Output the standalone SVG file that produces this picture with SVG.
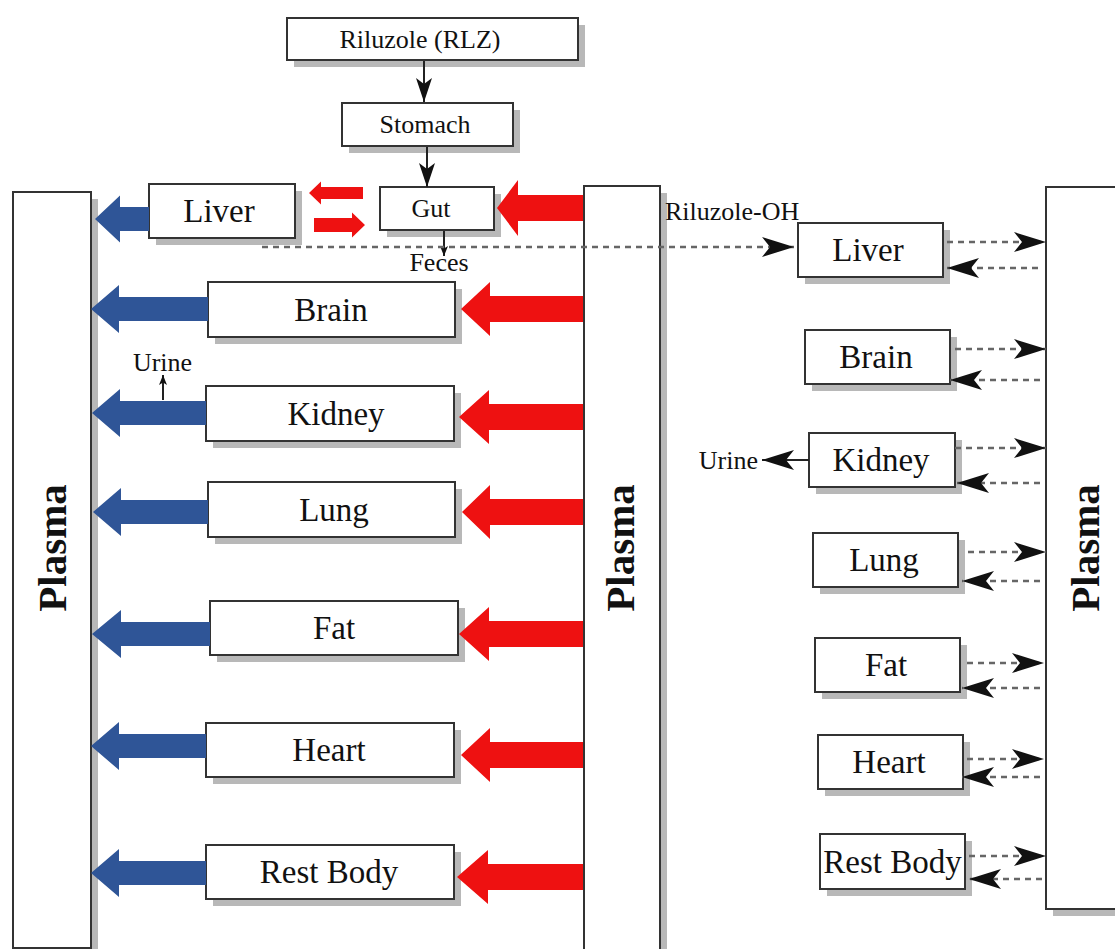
<svg xmlns="http://www.w3.org/2000/svg" width="1115" height="949" viewBox="0 0 1115 949">
<style>
.box{fill:#fff;stroke:#333;stroke-width:2}
.sh{fill:#b8b8b8}
.org{font-family:"Liberation Serif","Times New Roman",serif;font-size:33px;fill:#111;text-anchor:middle;dominant-baseline:central}
.sm{font-family:"Liberation Serif","Times New Roman",serif;font-size:26px;fill:#111;text-anchor:middle;dominant-baseline:central}
.pl{font-family:"Liberation Serif","Times New Roman",serif;font-size:41px;font-weight:bold;fill:#111;text-anchor:middle}
.blue{fill:#2f5597}
.red{fill:#ee1111}
.dash{stroke:#666;stroke-width:2.5;stroke-dasharray:6 5;fill:none}
.solid{stroke:#222;stroke-width:2;fill:none}
</style>
<defs>
<marker id="stealth" markerUnits="userSpaceOnUse" markerWidth="34" markerHeight="22" refX="32" refY="10" orient="auto">
<path d="M0,0 L32,10 L0,20 L8,10 Z" fill="#111"/>
</marker>
<marker id="head" markerUnits="userSpaceOnUse" markerWidth="26" markerHeight="18" refX="24" refY="8" orient="auto">
<path d="M0,0 L24,8 L0,16 L6,8 Z" fill="#111"/>
</marker>
<marker id="tiny" markerUnits="userSpaceOnUse" markerWidth="12" markerHeight="10" refX="10" refY="4" orient="auto">
<path d="M0,0 L10,4 L0,8 L2.5,4 Z" fill="#111"/>
</marker>
</defs>

<!-- plasma columns -->
<g id="plasma-left">
<rect class="sh" x="20" y="199" width="78" height="756"/>
<rect class="box" x="13" y="192" width="78" height="756"/>
<text class="pl" transform="translate(66,548) rotate(-90)">Plasma</text>
</g>
<g id="plasma-middle">
<rect class="sh" x="591" y="193" width="76" height="770"/>
<rect class="box" x="584" y="186" width="76" height="770"/>
<text class="pl" transform="translate(634,548) rotate(-90)">Plasma</text>
</g>
<g id="plasma-right">
<rect class="sh" x="1053" y="194" width="80" height="722"/>
<rect class="box" x="1046" y="187" width="80" height="722"/>
<text class="pl" transform="translate(1099,548) rotate(-90)">Plasma</text>
</g>

<!-- upper chain -->
<g id="riluzole">
<rect class="sh" x="294" y="25" width="291" height="42"/>
<rect class="box" x="287" y="18" width="291" height="42"/>
<text class="sm" x="420" y="39">Riluzole (RLZ)</text>
</g>
<g id="stomach">
<rect class="sh" x="349" y="110" width="171" height="43"/>
<rect class="box" x="342" y="103" width="171" height="43"/>
<text class="sm" x="425" y="124.5">Stomach</text>
</g>
<g id="gut">
<rect class="sh" x="387" y="194" width="114" height="43"/>
<rect class="box" x="380" y="187" width="114" height="43"/>
<text class="sm" x="431" y="208">Gut</text>
</g>

<!-- left organs -->
<g id="liver-left">
<rect class="sh" x="156" y="191" width="146" height="54"/>
<rect class="box" x="149" y="184" width="146" height="54"/>
<text class="org" x="219" y="211">Liver</text>
</g>
<g id="brain-left">
<rect class="sh" x="215" y="289" width="247" height="55"/>
<rect class="box" x="208" y="282" width="247" height="55"/>
<text class="org" x="331" y="309.5">Brain</text>
</g>
<g id="kidney-left">
<rect class="sh" x="213" y="393" width="248" height="55"/>
<rect class="box" x="206" y="386" width="248" height="55"/>
<text class="org" x="336" y="413.5">Kidney</text>
</g>
<g id="lung-left">
<rect class="sh" x="215" y="489" width="247" height="55"/>
<rect class="box" x="208" y="482" width="247" height="55"/>
<text class="org" x="334" y="509.5">Lung</text>
</g>
<g id="fat-left">
<rect class="sh" x="217" y="608" width="248" height="54"/>
<rect class="box" x="210" y="601" width="248" height="54"/>
<text class="org" x="334" y="628">Fat</text>
</g>
<g id="heart-left">
<rect class="sh" x="213" y="730" width="248" height="54"/>
<rect class="box" x="206" y="723" width="248" height="54"/>
<text class="org" x="329" y="750">Heart</text>
</g>
<g id="rest-left">
<rect class="sh" x="213" y="852" width="248" height="54"/>
<rect class="box" x="206" y="845" width="248" height="54"/>
<text class="org" x="329" y="872">Rest Body</text>
</g>

<!-- right organs -->
<g id="liver-right">
<rect class="sh" x="805" y="230" width="145" height="54"/>
<rect class="box" x="798" y="223" width="145" height="54"/>
<text class="org" x="868" y="250">Liver</text>
</g>
<g id="brain-right">
<rect class="sh" x="812" y="337" width="145" height="54"/>
<rect class="box" x="805" y="330" width="145" height="54"/>
<text class="org" x="876" y="357">Brain</text>
</g>
<g id="kidney-right">
<rect class="sh" x="816" y="440" width="146" height="54"/>
<rect class="box" x="809" y="433" width="146" height="54"/>
<text class="org" x="881" y="460">Kidney</text>
</g>
<g id="lung-right">
<rect class="sh" x="820" y="540" width="145" height="54"/>
<rect class="box" x="813" y="533" width="145" height="54"/>
<text class="org" x="884" y="560">Lung</text>
</g>
<g id="fat-right">
<rect class="sh" x="822" y="645" width="145" height="54"/>
<rect class="box" x="815" y="638" width="145" height="54"/>
<text class="org" x="886" y="665">Fat</text>
</g>
<g id="heart-right">
<rect class="sh" x="825" y="742" width="145" height="54"/>
<rect class="box" x="818" y="735" width="145" height="54"/>
<text class="org" x="889" y="762">Heart</text>
</g>
<g id="rest-right">
<rect class="sh" x="827" y="841" width="145" height="55"/>
<rect class="box" x="820" y="834" width="145" height="55"/>
<text class="org" x="892.5" y="861.5">Rest Body</text>
</g>

<!-- labels -->
<g id="labels">
<text class="sm" x="439" y="262">Feces</text>
<text class="sm" x="162.5" y="362">Urine</text>
<text class="sm" x="758" y="460" style="text-anchor:end">Urine</text>
<text class="sm" x="665" y="211" style="text-anchor:start">Riluzole-OH</text>
</g>

<g id="connectors">
<!-- solid black arrows -->
<line class="solid" x1="424" y1="61" x2="424" y2="102" marker-end="url(#head)"/>
<line class="solid" x1="427" y1="147" x2="427" y2="187" marker-end="url(#head)"/>
<line class="solid" x1="444" y1="231" x2="444" y2="256" stroke-width="1.5" marker-end="url(#tiny)"/>
<line class="solid" x1="163" y1="400" x2="163" y2="375" stroke-width="1.5" marker-end="url(#tiny)"/>
<line class="solid" x1="809" y1="460" x2="762" y2="460" stroke="#444" marker-end="url(#stealth)"/>

<!-- dashed Riluzole-OH line -->
<line class="dash" x1="262" y1="247" x2="794" y2="247" marker-end="url(#stealth)"/>

<!-- right side exchanges -->
<line class="dash" x1="947" y1="242" x2="1046" y2="242" marker-end="url(#stealth)"/>
<line class="dash" x1="1038" y1="268" x2="947" y2="268" marker-end="url(#stealth)"/>
<line class="dash" x1="955" y1="349" x2="1046" y2="349" marker-end="url(#stealth)"/>
<line class="dash" x1="1040" y1="380" x2="950" y2="380" marker-end="url(#stealth)"/>
<line class="dash" x1="955" y1="448" x2="1046" y2="448" marker-end="url(#stealth)"/>
<line class="dash" x1="1040" y1="483" x2="957" y2="483" marker-end="url(#stealth)"/>
<line class="dash" x1="968" y1="552" x2="1046" y2="552" marker-end="url(#stealth)"/>
<line class="dash" x1="1040" y1="581" x2="962" y2="581" marker-end="url(#stealth)"/>
<line class="dash" x1="967" y1="663" x2="1044" y2="663" marker-end="url(#stealth)"/>
<line class="dash" x1="1040" y1="688" x2="962" y2="688" marker-end="url(#stealth)"/>
<line class="dash" x1="967" y1="759" x2="1044" y2="759" marker-end="url(#stealth)"/>
<line class="dash" x1="1040" y1="777" x2="962" y2="777" marker-end="url(#stealth)"/>
<line class="dash" x1="969" y1="856" x2="1046" y2="856" marker-end="url(#stealth)"/>
<line class="dash" x1="1042" y1="879" x2="969" y2="879" marker-end="url(#stealth)"/>

<!-- blue block arrows (organ to left plasma) -->
<polygon class="blue" points="95,219 120,195.5 120,207 149,207 149,231 120,231 120,242.5"/>
<polygon class="blue" points="91,309 119,285 119,297 208,297 208,321 119,321 119,333"/>
<polygon class="blue" points="92,413 120,389 120,401 206,401 206,425 120,425 120,437"/>
<polygon class="blue" points="93,512 121,488 121,500 208,500 208,524 121,524 121,536"/>
<polygon class="blue" points="92,634 121,610 121,622 210,622 210,646 121,646 121,658"/>
<polygon class="blue" points="91,746 119,722 119,734 206,734 206,758 119,758 119,770"/>
<polygon class="blue" points="91,873 119,849 119,861 206,861 206,885 119,885 119,897"/>

<!-- red block arrows (middle plasma to organs) -->
<polygon class="red" points="497,208 518,180 518,195 583,195 583,221 518,221 518,236"/>
<polygon class="red" points="461,309 490,282 490,296 583,296 583,322 490,322 490,336"/>
<polygon class="red" points="459,417 489,390 489,404 583,404 583,430 489,430 489,444"/>
<polygon class="red" points="462,512 490,485 490,499 583,499 583,525 490,525 490,539"/>
<polygon class="red" points="459,634 489,607 489,621 583,621 583,647 489,647 489,661"/>
<polygon class="red" points="461,755 490,728 490,742 583,742 583,768 490,768 490,782"/>
<polygon class="red" points="457,877 488,850 488,864 583,864 583,890 488,890 488,904"/>

<!-- liver-gut exchange -->
<polygon class="red" points="309,193 321,181.5 321,187 363,187 363,199 321,199 321,204.5"/>
<polygon class="red" points="365,225 352,212.5 352,218 314,218 314,232 352,232 352,237.5"/>
</g>
</svg>
